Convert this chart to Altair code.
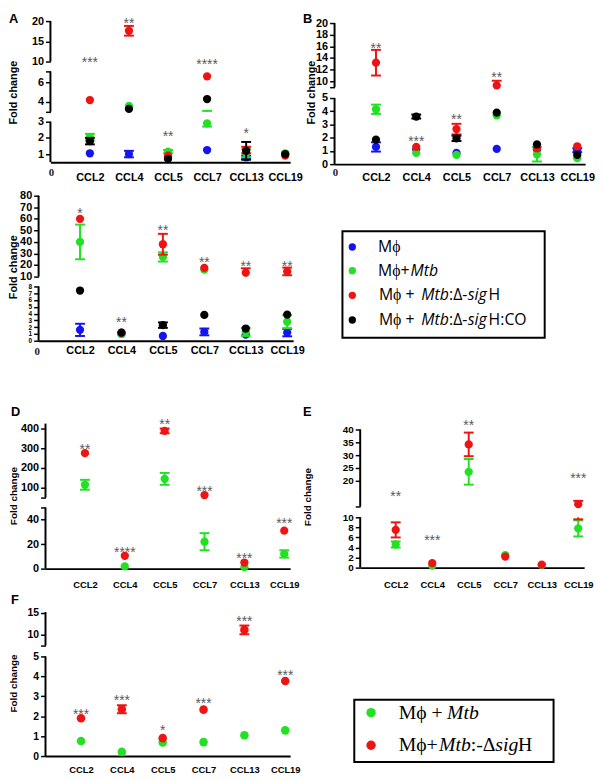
import json
import altair as alt
import pandas as pd

# ------------------------------------------------------------------ data
cats = ["CCL2", "CCL4", "CCL5", "CCL7", "CCL13", "CCL19"]
COL = {"blue": "#1414ee", "green": "#22e022", "red": "#ee1414", "black": "#000000"}

# Panel A (mean, half error bar)
A_blue = [1.05, 1.0, 0.85, 1.25, 0.8, 1.0]
A_blue_err = [0, 0.2, 0, 0, 0.1, 0]
A_green = [2.05, 3.6, 1.15, 2.9, 1.05, 1.05]
A_green_err = [0.2, 0, 0.1, 0.2, 0.25, 0]
A_red = [4.2, 17.6, 0.9, 6.6, 1.25, 0.9]
A_red_err = [0, 1.2, 0, 0, 0.2, 0]
A_black = [1.8, 3.3, 0.7, 4.3, 1.2, 1.0]
A_black_err = [0.2, 0, 0, 0, 0.55, 0]
A_stars = ["***", "**", "**", "****", "*", ""]
A_star_at = [10.7, 20.3, 2.3, 10.2, 2.5, 0]

# Panel B
B_blue = [1.3, 1.1, 0.85, 1.15, 1.1, 1.05]
B_blue_err = [0.35, 0, 0, 0, 0, 0.15]
B_green = [4.15, 0.85, 0.7, 3.7, 0.75, 0.45]
B_green_err = [0.35, 0, 0, 0, 0.55, 0]
B_red = [13.2, 1.3, 2.65, 9.3, 1.2, 1.35]
B_red_err = [2.2, 0, 0.4, 0.8, 0, 0]
B_black = [1.85, 3.6, 1.95, 3.9, 1.5, 0.7]
B_black_err = [0, 0.15, 0.2, 0, 0, 0]
B_stars = ["**", "***", "**", "**", "", ""]
B_star_at = [16.3, 1.95, 3.6, 11.2, 0, 0]

# Panel C
C_blue = [1.6, 1.0, 0.7, 1.3, 0.9, 1.2]
C_blue_err = [0.9, 0, 0, 0.5, 0, 0.55]
C_green = [40, 1.0, 27, 16, 1.3, 2.8]
C_green_err = [15, 0, 4, 0, 0.6, 0.95]
C_red = [60, 1.2, 38, 17.5, 13.4, 14.5]
C_red_err = [0, 0, 9, 0, 3.8, 3.3]
C_black = [7.4, 1.2, 2.3, 3.8, 1.8, 3.85]
C_black_err = [0, 0, 0.4, 0, 0, 0]
C_stars = ["*", "**", "**", "**", "**", "**"]
C_star_at = [67.7, 3.2, 52.8, 25.2, 22, 22]

# Panel D
D_green = [115, 1.8, 145, 22, 1.2, 12]
D_green_err = [25, 0, 30, 7, 0, 3]
D_red = [275, 10.5, 388, 63, 5.0, 31]
D_red_err = [0, 0, 12, 0, 0, 0]
D_stars = ["**", "****", "**", "***", "***", "***"]
D_star_at = [313, 16, 438, 97, 11.3, 39.3]

# Panel E
E_green = [4.6, 0.4, 23.5, 2.5, 0.5, 7.8]
E_green_err = [0.6, 0, 5, 0, 0, 1.6]
E_red = [7.5, 0.9, 34.2, 2.2, 0.6, 10.9]
E_red_err = [1.5, 0, 4.6, 0, 0, 1.3]
E_stars = ["**", "***", "**", "", "", "***"]
E_star_at = [15.1, 6.1, 42.7, 0, 0, 22.2]

# Panel F
F_green = [0.76, 0.21, 0.68, 0.7, 1.04, 1.29]
F_green_err = [0, 0, 0, 0, 0, 0]
F_red = [1.9, 2.35, 0.9, 2.33, 11.1, 3.77]
F_red_err = [0, 0.2, 0, 0, 1.0, 0]
F_stars = ["***", "***", "*", "***", "***", "***"]
F_star_at = [2.27, 2.94, 1.45, 2.82, 13.7, 4.2]

EPS = 1e-6
FONT = "Liberation Sans"
NARROW = "Liberation Sans Narrow, Liberation Sans, sans-serif"


# ------------------------------------------------------------------ helpers
def series_df(series):
    rows = []
    for name, (m, e) in series.items():
        for i, c in enumerate(cats):
            rows.append({"series": name, "cat": c, "idx": cats.index(c),
                         "mean": m[i], "err": e[i], "lo": m[i] - e[i], "hi": m[i] + e[i]})
    return pd.DataFrame(rows)


def pieces(df, segs):
    bars, caps = [], []
    for _, r in df[df.err > 0].iterrows():
        for a, b in segs:
            lo, hi = max(r.lo, a), min(r.hi, b)
            if lo < hi:
                bars.append({"series": r.series, "idx": r.idx, "lo": lo, "hi": hi})
        for v in (r.lo, r.hi):
            if any(a <= v <= b for a, b in segs):
                caps.append({"series": r.series, "idx": r.idx, "v": v})
    return (pd.DataFrame(bars, columns=["series", "idx", "lo", "hi"]),
            pd.DataFrame(caps, columns=["series", "idx", "v"]))


def panel(cfg):
    df = series_df(cfg["series"])
    segs = []
    for a, b in cfg["segs"]:
        if segs and a <= segs[-1][1]:
            a = segs[-1][1] + EPS
        segs.append((a, b))
    ydom, yrng = [], []
    for (a, b), (pa, pb) in zip(segs, cfg["ypix"]):
        ydom += [a, b]
        yrng += [pa, pb]
    step = (cfg["P5"] - cfg["P0"]) / 5.0
    xdom = [(cfg["xL"] - cfg["P0"]) / step, (cfg["xR"] - cfg["P0"]) / step]
    W, H = cfg["W"], cfg["H"]

    xs = alt.Scale(domain=xdom, range=[cfg["xL"], cfg["xR"]], nice=False, zero=False)
    ys = alt.Scale(domain=ydom, range=yrng, nice=False, zero=False)
    labs = cfg["labels"]
    ysize = cfg["ysize"]
    if cfg.get("small_below") is not None:
        ysize = {"condition": {"test": f"datum.value <= {cfg['small_below']}",
                               "value": cfg["small_size"]},
                 "value": cfg["ysize"]}
    yax = alt.Axis(values=cfg["ticks"],
                   labelExpr=f"indexof({json.dumps(labs)}, datum.value) >= 0 ? datum.label : ''",
                   domain=False, tickSize=5, tickWidth=1.5, tickColor="black",
                   labelFont=FONT, labelFontSize=ysize, labelFontWeight="bold",
                   labelColor="black", labelPadding=2, labelOverlap=False,
                   labelBound=False, labelFlush=False, grid=False, offset=-cfg["xL"],
                   title="Fold change", titleFont=FONT, titleFontSize=cfg["tsize"],
                   titleFontWeight="bold", titleColor="black", titleAngle=270,
                   titleAlign="center", titleBaseline="bottom",
                   titleX=cfg["titleX"], titleY=cfg["titleY"])
    xax = alt.Axis(values=list(range(len(cats))),
                   labelExpr=f"{json.dumps(cats)}[datum.value]",
                   domainColor="black", domainWidth=2, ticks=False,
                   labelFont=cfg["xfont"], labelFontSize=cfg["xsize"], labelFontWeight="bold",
                   labelColor="black", labelPadding=cfg["xpad"], labelOverlap=False,
                   labelBound=False, labelFlush=False, grid=False, title=None,
                   offset=-(H - cfg["ypix"][0][0]))

    def X(f="idx"):
        return alt.X(f"{f}:Q", scale=xs, axis=xax)

    def Y(f):
        return alt.Y(f"{f}:Q", scale=ys, axis=yax)

    layers = [alt.Chart(df).mark_point(opacity=0).encode(x=X(), y=Y("mean"))]
    adf = pd.DataFrame({"a": [s[0] for s in segs], "b": [s[1] for s in segs],
                        "x0": [xdom[0]] * len(segs)})
    layers.append(alt.Chart(adf).mark_rule(color="black", strokeWidth=2)
                  .encode(x=X("x0"), y=Y("a"), y2="b:Q"))
    bars, caps = pieces(df, segs)
    for s in ["blue", "green", "red", "black"]:
        if s not in cfg["series"]:
            continue
        c = COL[s]
        bs = bars[bars.series == s]
        if len(bs):
            layers.append(alt.Chart(bs).mark_rule(color=c, strokeWidth=2)
                          .encode(x=X(), y=Y("lo"), y2="hi:Q"))
        cs = caps[caps.series == s]
        if len(cs):
            layers.append(alt.Chart(cs).mark_tick(color=c, orient="horizontal", size=10,
                                                  thickness=2, opacity=1)
                          .encode(x=X(), y=Y("v")))
        ps = df[df.series == s]
        layers.append(alt.Chart(ps).mark_circle(color=c, size=cfg["dot"], opacity=1)
                      .encode(x=X(), y=Y("mean")))
    sdf = pd.DataFrame({"idx": list(range(len(cats))), "txt": cfg["stars"], "val": cfg["star_at"]})
    sdf = sdf[sdf.txt != ""]
    layers.append(alt.Chart(sdf).mark_text(font=FONT, fontSize=14, color="#5a5a5a",
                                           baseline="middle", dy=4)
                  .encode(x=X(), y=Y("val"), text="txt:N"))
    if cfg.get("letter"):
        lx, ly = cfg["letter_xy"]
        layers.append(alt.Chart(pd.DataFrame({"t": [cfg["letter"]]}))
                      .mark_text(font=FONT, fontSize=13, fontWeight="bold", color="black",
                                 align="left", baseline="alphabetic")
                      .encode(x=alt.value(lx), y=alt.value(ly), text="t:N"))
    if cfg.get("zero"):
        zx, zy = cfg["zero"]
        layers.append(alt.Chart(pd.DataFrame({"t": ["0"]}))
                      .mark_text(font="Liberation Serif", fontSize=11, fontWeight="bold",
                                 color="#222222", align="center", baseline="middle")
                      .encode(x=alt.value(zx), y=alt.value(zy), text="t:N"))
    return alt.layer(*layers).properties(width=W, height=H)


def legend(runs, dots, box, W, H, font, size, dsize):
    bdf = pd.DataFrame([box], columns=["x0", "x1", "y0", "y1"])
    layers = [alt.Chart(bdf).mark_rect(fillOpacity=0, stroke="black", strokeWidth=2)
              .encode(x=alt.X("x0:Q", scale=None, axis=None), x2="x1:Q",
                      y=alt.Y("y0:Q", scale=None, axis=None), y2="y1:Q")]
    ddf = pd.DataFrame(dots, columns=["px", "py", "c"])
    layers.append(alt.Chart(ddf).mark_circle(size=dsize, opacity=1)
                  .encode(x=alt.X("px:Q", scale=None, axis=None),
                          y=alt.Y("py:Q", scale=None, axis=None),
                          color=alt.Color("c:N", scale=None)))
    rdf = pd.DataFrame(runs, columns=["txt", "px", "py", "ital"])
    for ital in (False, True):
        sub = rdf[rdf.ital == ital]
        kw = dict(font=font, fontSize=size, align="left", baseline="middle", color="black")
        if ital:
            kw["fontStyle"] = "italic"
        layers.append(alt.Chart(sub).mark_text(**kw)
                      .encode(x=alt.X("px:Q", scale=None, axis=None),
                              y=alt.Y("py:Q", scale=None, axis=None), text="txt:N"))
    return alt.layer(*layers).properties(width=W, height=H)


# ------------------------------------------------------------------ panels
pA = panel(dict(
    series={"blue": (A_blue, A_blue_err), "green": (A_green, A_green_err),
            "red": (A_red, A_red_err), "black": (A_black, A_black_err)},
    stars=A_stars, star_at=A_star_at,
    W=296, H=172, xL=43, xR=286, P0=83, P5=281,
    segs=[(0.5, 3), (3, 7.1), (10, 20)], ypix=[(151, 110), (100, 59), (49, 8)],
    ticks=[1, 2, 3, 3 + EPS, 4, 6, 7.1, 10, 15, 20], labels=[1, 2, 3, 4, 6, 10, 15, 20],
    ysize=11, tsize=11, titleX=-32, titleY=80, xfont=NARROW, xsize=11, xpad=10, dot=70,
    letter="A", letter_xy=(1, 10), zero=(44, 162.5)))

pB = panel(dict(
    series={"blue": (B_blue, B_blue_err), "green": (B_green, B_green_err),
            "red": (B_red, B_red_err), "black": (B_black, B_black_err)},
    stars=B_stars, star_at=B_star_at,
    W=297, H=172, xL=35, xR=289, P0=77, P5=281,
    segs=[(0, 5), (9, 20)], ypix=[(153, 86), (75, 10)],
    ticks=[0, 1, 2, 3, 4, 5, 9, 10, 12, 14, 16, 18, 20],
    labels=[0, 1, 2, 3, 4, 5, 10, 12, 14, 16, 18, 20],
    ysize=11, tsize=11, titleX=-18, titleY=80, xfont=NARROW, xsize=11, xpad=8, dot=70,
    letter="B", letter_xy=(3, 10), zero=(36, 162.5)))

pC = panel(dict(
    series={"blue": (C_blue, C_blue_err), "green": (C_green, C_green_err),
            "red": (C_red, C_red_err), "black": (C_black, C_black_err)},
    stars=C_stars, star_at=C_star_at,
    W=296, H=192, xL=31, xR=289, P0=73, P5=283,
    segs=[(0, 8), (10, 80)], ypix=[(160, 105), (95, 13)],
    ticks=[0, 1, 2, 3, 4, 5, 6, 7, 8, 10, 20, 30, 40, 50, 60, 70, 80],
    labels=[0, 1, 2, 3, 4, 5, 6, 7, 8, 10, 20, 30, 40, 50, 60, 70, 80],
    ysize=11, small_below=8, small_size=6.5,
    tsize=11, titleX=-20, titleY=85, xfont=NARROW, xsize=11, xpad=4, dot=70,
    zero=(29.5, 171.5)))

pD = panel(dict(
    series={"green": (D_green, D_green_err), "red": (D_red, D_red_err)},
    stars=D_stars, star_at=D_star_at,
    W=296, H=222, xL=38, xR=286, P0=78, P5=280,
    segs=[(0, 50), (50, 425)], ypix=[(199, 137), (127, 52)],
    ticks=[0, 20, 40, 50, 50 + EPS, 100, 200, 300, 400],
    labels=[0, 20, 40, 100, 200, 300, 400],
    ysize=11, tsize=10, titleX=-27, titleY=125, xfont=FONT, xsize=9.5, xpad=11, dot=70,
    letter="D", letter_xy=(3, 44)))

pE = panel(dict(
    series={"green": (E_green, E_green_err), "red": (E_red, E_red_err)},
    stars=E_stars, star_at=E_star_at,
    W=297, H=222, xL=61, xR=288, P0=97, P5=282,
    segs=[(0, 10), (10, 40)], ypix=[(198, 147), (136, 58)],
    ticks=[0, 2, 4, 6, 8, 10, 10 + EPS, 20, 25, 30, 35, 40],
    labels=[0, 2, 4, 6, 8, 10, 20, 25, 30, 35, 40],
    ysize=10, tsize=10, titleX=-48, titleY=126, xfont=FONT, xsize=9.5, xpad=12, dot=70,
    letter="E", letter_xy=(3, 44)))

pF = panel(dict(
    series={"green": (F_green, F_green_err), "red": (F_red, F_red_err)},
    stars=F_stars, star_at=F_star_at,
    W=296, H=185, xL=38, xR=286, P0=74, P5=281,
    segs=[(0, 5), (7.5, 15.2)], ypix=[(167, 66), (55, 21)],
    ticks=[0, 1, 2, 3, 4, 5, 7.5, 10, 15], labels=[0, 1, 2, 3, 4, 5, 10, 15],
    ysize=10.5, tsize=10, titleX=-27, titleY=93, xfont=FONT, xsize=9.5, xpad=9, dot=75,
    letter="F", letter_xy=(3, 13)))

# ------------------------------------------------------------------ legends
leg1_runs = [
    ("Mϕ", 79, 65, False),
    ("Mϕ+", 79, 89, False), ("Mtb", 112, 89, True),
    ("Mϕ + ", 80, 114, False), ("Mtb", 123, 114, True), (":Δ-", 151, 114, False),
    ("sig", 170, 114, True), ("H", 191, 114, False),
    ("Mϕ + ", 80, 139, False), ("Mtb", 123, 139, True), (":Δ-", 151, 139, False),
    ("sig", 170, 139, True), ("H", 191, 139, False), (":CO", 203, 139, False),
]
leg1_dots = [(53, 65, COL["blue"]), (53, 89, COL["green"]),
             (53, 114, COL["red"]), (53, 139, COL["black"])]
L1 = legend(leg1_runs, leg1_dots, (43, 248, 49, 157), 297, 192, "Open Sans", 16, 55)

leg2_runs = [
    ("Mϕ + ", 100, 123, False), ("Mtb", 149, 123, True),
    ("Mϕ+", 100, 156, False), ("Mtb", 141, 156, True), (":-Δ", 173, 156, False),
    ("sig", 198, 156, True), ("H", 221, 156, False),
]
leg2_dots = [(72, 123, COL["green"]), (72, 156, COL["red"])]
L2 = legend(leg2_runs, leg2_dots, (55, 257, 110, 173), 297, 185, "Liberation Serif", 20, 90)

chart = alt.ConcatChart(
    concat=[pA, pB, pC, L1, pD, pE, pF, L2], columns=2, spacing=0, bounds="flush",
    padding=0, background="white",
).configure_view(stroke=None)

chart.save("out.html", embed_options={"renderer": "svg", "actions": False})
